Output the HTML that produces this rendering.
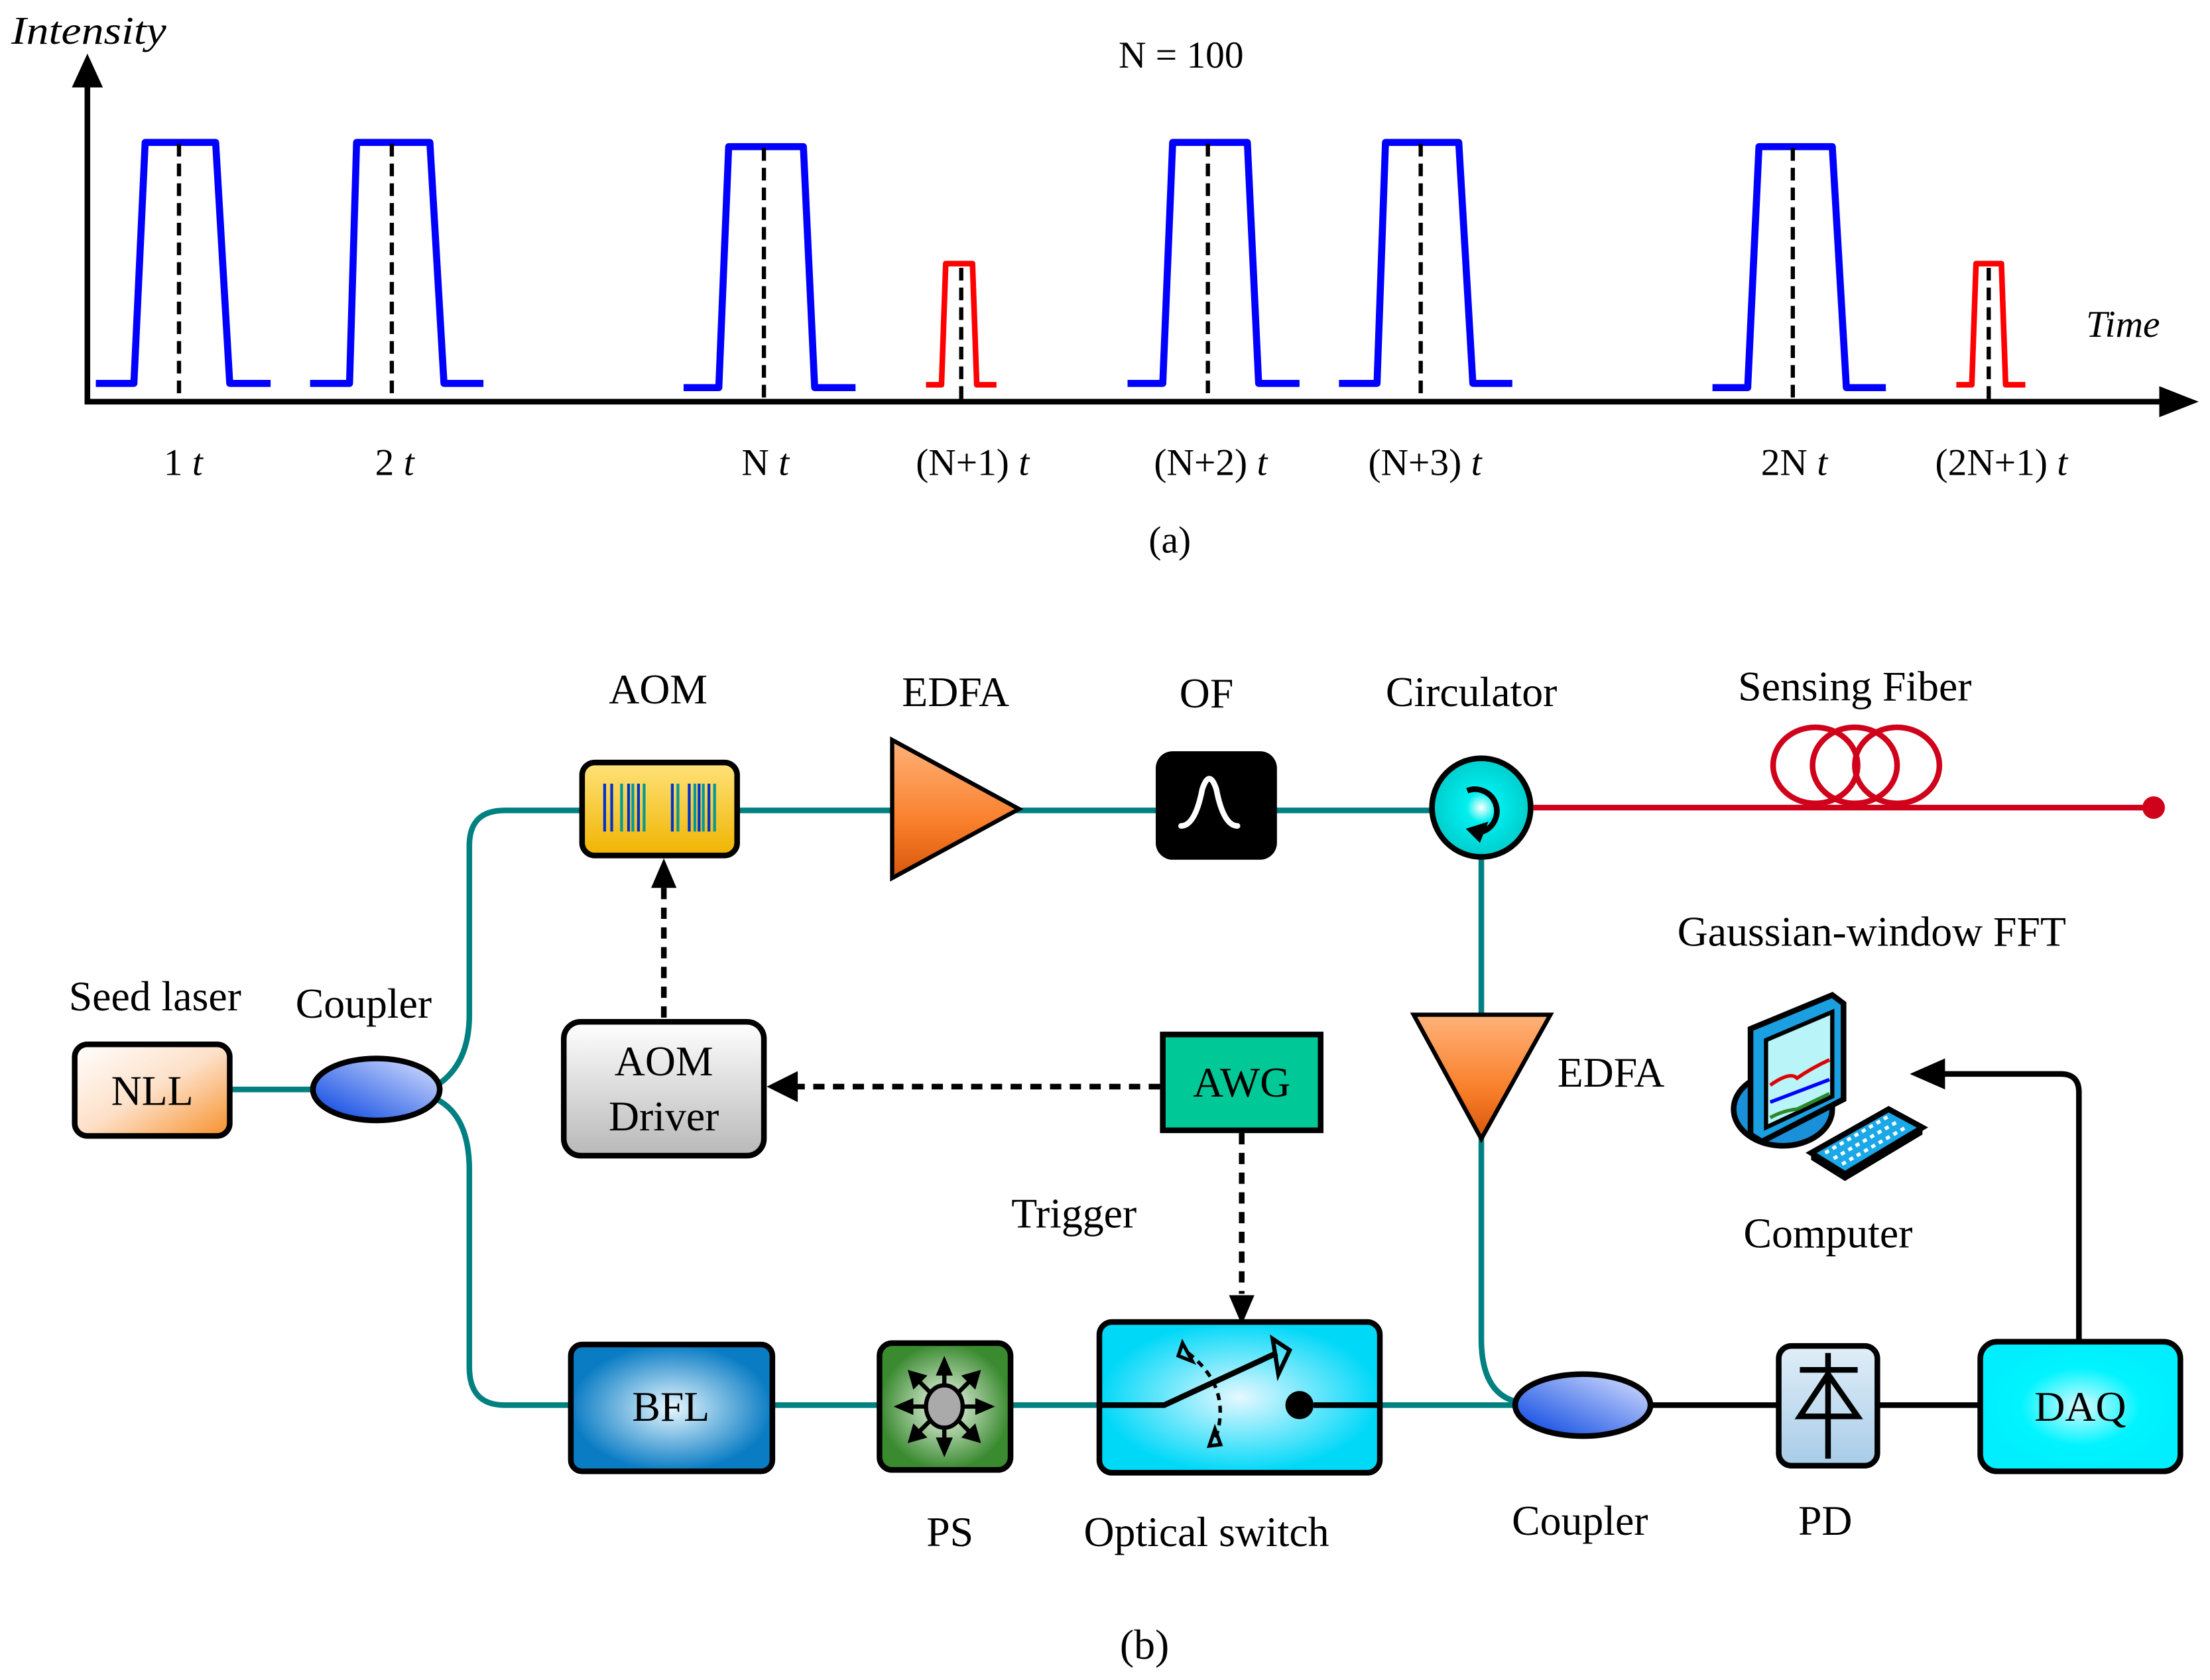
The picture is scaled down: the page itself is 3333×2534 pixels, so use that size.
<!DOCTYPE html>
<html><head><meta charset="utf-8"><style>
html,body{margin:0;padding:0;background:#fff;}
svg{display:block;}
text{font-family:"Liberation Serif",serif;fill:#000;}
</style></head><body>
<svg width="3333" height="2534" viewBox="0 0 1568 1192" xmlns="http://www.w3.org/2000/svg">
<defs>
<linearGradient id="gNLL" x1="0" y1="0" x2="1" y2="1"><stop offset="0" stop-color="#fff"/><stop offset="0.5" stop-color="#fde0c8"/><stop offset="1" stop-color="#f7902a"/></linearGradient>
<linearGradient id="gAOM" x1="0" y1="0" x2="0" y2="1"><stop offset="0" stop-color="#ffe27a"/><stop offset="1" stop-color="#f0b400"/></linearGradient>
<linearGradient id="gEDFA" x1="0" y1="0" x2="0" y2="1"><stop offset="0" stop-color="#ffb27a"/><stop offset="0.6" stop-color="#f97f2a"/><stop offset="1" stop-color="#d8560c"/></linearGradient>
<linearGradient id="gEDFA2" x1="0" y1="0" x2="0" y2="1"><stop offset="0" stop-color="#ffb27a"/><stop offset="0.6" stop-color="#f97f2a"/><stop offset="1" stop-color="#d8560c"/></linearGradient>
<linearGradient id="gDrv" x1="0" y1="0" x2="0" y2="1"><stop offset="0" stop-color="#fff"/><stop offset="1" stop-color="#b8b8b8"/></linearGradient>
<radialGradient id="gBFL"><stop offset="0" stop-color="#e8f8ff"/><stop offset="1" stop-color="#0a7cc4"/></radialGradient>
<radialGradient id="gPS"><stop offset="0" stop-color="#f4fbf0"/><stop offset="1" stop-color="#3a8a30"/></radialGradient>
<radialGradient id="gSW"><stop offset="0" stop-color="#e6f8ff"/><stop offset="1" stop-color="#00d8f8"/></radialGradient>
<radialGradient id="gDAQ"><stop offset="0" stop-color="#d8fbff"/><stop offset="0.6" stop-color="#00f4ff"/><stop offset="1" stop-color="#00eeff"/></radialGradient>
<radialGradient id="gCirc"><stop offset="0" stop-color="#fff"/><stop offset="0.3" stop-color="#00f0f0"/><stop offset="1" stop-color="#00cccc"/></radialGradient>
<linearGradient id="gCpl" x1="0" y1="1" x2="1" y2="0"><stop offset="0" stop-color="#0040e0"/><stop offset="1" stop-color="#dde4ff"/></linearGradient>
<linearGradient id="gPD" x1="0" y1="0" x2="0" y2="1"><stop offset="0" stop-color="#e0eef8"/><stop offset="1" stop-color="#a8cce8"/></linearGradient>
</defs>

<!-- (a) -->
<text x="8" y="31" font-size="28" font-style="italic" textLength="110" lengthAdjust="spacingAndGlyphs">Intensity</text>
<text x="838" y="48" font-size="27" text-anchor="middle">N = 100</text>
<text x="1480" y="239" font-size="27" font-style="italic">Time</text>
<line x1="62" y1="60" x2="62" y2="286" stroke="#000" stroke-width="4"/>
<polygon points="62,38 51,62 73,62" fill="#000"/>
<line x1="60" y1="285" x2="1535" y2="285" stroke="#000" stroke-width="4"/>
<polygon points="1560,285 1532,274 1532,296" fill="#000"/>
<g fill="none" stroke="#0000ff" stroke-width="5" stroke-linejoin="round">
<polyline points="68,272 95,272 103,101 153,101 163,272 192,272"/>
<polyline points="220,272 248,272 253,101 305,101 315,272 343,272"/>
<polyline points="485,275 510,275 517,104 570,104 578,275 607,275"/>
<polyline points="800,272 825,272 832,101 885,101 893,272 922,272"/>
<polyline points="950,272 977,272 983,101 1035,101 1045,272 1073,272"/>
<polyline points="1215,275 1240,275 1248,104 1300,104 1310,275 1338,275"/>
</g>
<g fill="none" stroke="#ff0000" stroke-width="4" stroke-linejoin="round">
<polyline points="657,273 668,273 671,187 690,187 693,273 707,273"/>
<polyline points="1388,273 1399,273 1402,187 1420,187 1423,273 1437,273"/>
</g>
<g stroke="#000" stroke-width="3" stroke-dasharray="9,5">
<line x1="127" y1="102" x2="127" y2="284"/><line x1="278" y1="102" x2="278" y2="284"/>
<line x1="542" y1="105" x2="542" y2="284"/><line x1="682" y1="190" x2="682" y2="284"/>
<line x1="857" y1="102" x2="857" y2="284"/><line x1="1008" y1="102" x2="1008" y2="284"/>
<line x1="1272" y1="105" x2="1272" y2="284"/><line x1="1411" y1="190" x2="1411" y2="284"/>
</g>
<g font-size="27" text-anchor="middle">
<text x="130" y="337">1 <tspan font-style="italic">t</tspan></text>
<text x="280" y="337">2 <tspan font-style="italic">t</tspan></text>
<text x="543" y="337">N <tspan font-style="italic">t</tspan></text>
<text x="690" y="337">(N+1) <tspan font-style="italic">t</tspan></text>
<text x="859" y="337">(N+2) <tspan font-style="italic">t</tspan></text>
<text x="1011" y="337">(N+3) <tspan font-style="italic">t</tspan></text>
<text x="1273" y="337">2N <tspan font-style="italic">t</tspan></text>
<text x="1420" y="337">(2N+1) <tspan font-style="italic">t</tspan></text>
<text x="830" y="392">(a)</text>
</g>

<!-- (b) fibers -->
<g fill="none" stroke="#008080" stroke-width="4">
<line x1="163" y1="773" x2="225" y2="773"/>
<path d="M310,770 Q333,755 333,720 L333,600 Q333,575 358,575 L1017,575"/>
<path d="M310,780 Q333,792 333,830 L333,970 Q333,997 358,997 L1078,997"/>
<line x1="1051" y1="608" x2="1051" y2="720"/>
<path d="M1051,806 L1051,950 Q1051,990 1078,995"/>
</g>
<line x1="1088" y1="573" x2="1528" y2="573" stroke="#d0021b" stroke-width="4"/>
<circle cx="1528" cy="573" r="8" fill="#d0021b"/>
<g fill="none" stroke="#d0021b" stroke-width="4">
<ellipse cx="1288" cy="543" rx="30" ry="27"/><ellipse cx="1316" cy="543" rx="30" ry="27"/><ellipse cx="1346" cy="543" rx="30" ry="27"/>
</g>
<g stroke="#000" stroke-width="4" fill="none">
<line x1="1170" y1="997" x2="1262" y2="997"/>
<line x1="1332" y1="997" x2="1405" y2="997"/>
<path d="M1475,952 L1475,775 Q1475,762 1462,762 L1375,762"/>
</g>
<polygon points="1355,762 1380,751 1380,773" fill="#000"/>

<!-- dashed control -->
<g stroke="#000" stroke-width="4" stroke-dasharray="8,6" fill="none">
<line x1="471" y1="722" x2="471" y2="628"/>
<line x1="823" y1="771" x2="565" y2="771"/>
<line x1="881" y1="804" x2="881" y2="918"/>
</g>
<polygon points="471,609 462,630 480,630" fill="#000"/>
<polygon points="544,771 566,760 566,782" fill="#000"/>
<polygon points="881,940 872,919 890,919" fill="#000"/>

<!-- components -->
<rect x="53" y="741" width="110" height="65" rx="9" fill="url(#gNLL)" stroke="#000" stroke-width="4"/>
<text x="108" y="784" font-size="30" text-anchor="middle">NLL</text>
<ellipse cx="267" cy="773" rx="45" ry="22" fill="url(#gCpl)" stroke="#000" stroke-width="4"/>

<rect x="413" y="541" width="110" height="66" rx="9" fill="url(#gAOM)" stroke="#000" stroke-width="4"/>
<g stroke-width="2">
<g stroke="#0033cc"><line x1="429" y1="556" x2="429" y2="590"/><line x1="434" y1="556" x2="434" y2="590"/><line x1="446" y1="556" x2="446" y2="590"/><line x1="453" y1="556" x2="453" y2="590"/><line x1="477" y1="556" x2="477" y2="590"/><line x1="489" y1="556" x2="489" y2="590"/><line x1="496" y1="556" x2="496" y2="590"/><line x1="503" y1="556" x2="503" y2="590"/></g>
<g stroke="#009a9a"><line x1="441" y1="556" x2="441" y2="590"/><line x1="449" y1="556" x2="449" y2="590"/><line x1="457" y1="556" x2="457" y2="590"/><line x1="481" y1="556" x2="481" y2="590"/><line x1="493" y1="556" x2="493" y2="590"/><line x1="499" y1="556" x2="499" y2="590"/><line x1="507" y1="556" x2="507" y2="590"/></g>
</g>
<polygon points="633,525 633,623 723,574" fill="url(#gEDFA)" stroke="#000" stroke-width="3"/>
<rect x="820" y="533" width="86" height="77" rx="12" fill="#000"/>
<path d="M838,586 Q848,586 853,560 Q858,545 863,560 Q868,586 878,586" stroke="#fff" stroke-width="4" fill="none" stroke-linecap="round"/>
<circle cx="1051" cy="573" r="35" fill="url(#gCirc)" stroke="#000" stroke-width="4"/>
<path d="M1041,561 A13,13 0 1,1 1052,590" fill="none" stroke="#000" stroke-width="4"/>
<polygon points="1040,588 1056,583 1050,598" fill="#000"/>
<polygon points="1003,720 1100,720 1051,808" fill="url(#gEDFA2)" stroke="#000" stroke-width="3"/>

<rect x="400" y="725" width="142" height="95" rx="12" fill="url(#gDrv)" stroke="#000" stroke-width="4"/>
<text x="471" y="763" font-size="30" text-anchor="middle">AOM</text>
<text x="471" y="802" font-size="30" text-anchor="middle">Driver</text>
<rect x="825" y="734" width="112" height="68" fill="#00c896" stroke="#000" stroke-width="4"/>
<text x="881" y="778" font-size="30" text-anchor="middle">AWG</text>

<rect x="405" y="954" width="143" height="90" rx="8" fill="url(#gBFL)" stroke="#000" stroke-width="4"/>
<text x="476" y="1008" font-size="30" text-anchor="middle">BFL</text>
<rect x="624" y="953" width="93" height="90" rx="9" fill="url(#gPS)" stroke="#000" stroke-width="4"/>
<g stroke="#000" stroke-width="3">
<line x1="670" y1="998" x2="670" y2="970"/><line x1="670" y1="998" x2="670" y2="1026"/>
<line x1="670" y1="998" x2="642" y2="998"/><line x1="670" y1="998" x2="698" y2="998"/>
<line x1="670" y1="998" x2="650" y2="978"/><line x1="670" y1="998" x2="690" y2="978"/>
<line x1="670" y1="998" x2="650" y2="1018"/><line x1="670" y1="998" x2="690" y2="1018"/>
</g>
<g fill="#000">
<polygon points="670,962 664,976 676,976"/><polygon points="670,1034 664,1020 676,1020"/>
<polygon points="634,998 648,992 648,1004"/><polygon points="706,998 692,992 692,1004"/>
<polygon points="644,972 648,986 658,976"/><polygon points="696,972 692,986 682,976"/>
<polygon points="644,1024 648,1010 658,1020"/><polygon points="696,1024 692,1010 682,1020"/>
</g>
<ellipse cx="670" cy="998" rx="13" ry="15" fill="#aaa" stroke="#000" stroke-width="3"/>

<rect x="780" y="938" width="199" height="107" rx="9" fill="url(#gSW)" stroke="#000" stroke-width="4"/>
<polyline points="780,997 826,997 906,960" fill="none" stroke="#000" stroke-width="4"/>
<polygon points="903,950 915,958 907,975" fill="none" stroke="#000" stroke-width="3"/>
<path d="M843,960 Q875,985 862,1022" fill="none" stroke="#000" stroke-width="2.5" stroke-dasharray="5,4"/>
<polygon points="839,953 846,966 836,962" fill="none" stroke="#000" stroke-width="2.5"/>
<polygon points="858,1026 862,1014 866,1025" fill="none" stroke="#000" stroke-width="2.5"/>
<circle cx="922" cy="997" r="10" fill="#000"/>
<line x1="932" y1="997" x2="979" y2="997" stroke="#000" stroke-width="4"/>

<ellipse cx="1123" cy="997" rx="48" ry="22" fill="url(#gCpl)" stroke="#000" stroke-width="4"/>
<rect x="1262" y="955" width="70" height="85" rx="9" fill="url(#gPD)" stroke="#000" stroke-width="4"/>
<g stroke="#000" stroke-width="4" fill="none">
<line x1="1297" y1="960" x2="1297" y2="1035"/><line x1="1277" y1="972" x2="1318" y2="972"/>
<polygon points="1297,975 1277,1005 1318,1005"/>
</g>
<rect x="1405" y="952" width="142" height="92" rx="12" fill="url(#gDAQ)" stroke="#000" stroke-width="4"/>
<text x="1476" y="1008" font-size="30" text-anchor="middle">DAQ</text>

<!-- computer -->
<ellipse cx="1265" cy="787" rx="35" ry="26" fill="#1a90d8" stroke="#000" stroke-width="4"/>
<polygon points="1242,730 1300,706 1308,712 1308,780 1250,810 1242,805" fill="#1aa0e0" stroke="#000" stroke-width="4"/>
<polygon points="1253,738 1300,718 1300,778 1253,800" fill="#b8f4f8" stroke="#000" stroke-width="3"/>
<path d="M1256,770 Q1270,760 1275,765 Q1285,758 1298,752" stroke="#d00" stroke-width="2.5" fill="none"/>
<path d="M1256,782 L1298,766" stroke="#00f" stroke-width="2.5" fill="none"/>
<path d="M1256,793 Q1265,788 1275,787 L1298,776" stroke="#2a8a2a" stroke-width="2.5" fill="none"/>
<polygon points="1285,818 1340,787 1364,800 1309,833" fill="#1aa8e8" stroke="#000" stroke-width="4"/>
<g stroke="#fff" stroke-width="2.5" stroke-dasharray="3,3">
<line x1="1295" y1="818" x2="1340" y2="792"/>
<line x1="1301" y1="822" x2="1346" y2="796"/>
<line x1="1307" y1="826" x2="1352" y2="800"/>
</g>
<polygon points="1285,818 1309,833 1309,838 1285,823" fill="#000"/>
<polygon points="1309,833 1364,800 1364,805 1309,838" fill="#000"/>

<!-- labels -->
<g font-size="30" text-anchor="middle">
<text x="467" y="499">AOM</text>
<text x="678" y="501">EDFA</text>
<text x="856" y="502">OF</text>
<text x="1044" y="501">Circulator</text>
<text x="1316" y="497">Sensing Fiber</text>
<text x="1328" y="671">Gaussian-window FFT</text>
<text x="1143" y="771">EDFA</text>
<text x="1297" y="885">Computer</text>
<text x="110" y="717">Seed laser</text>
<text x="258" y="722">Coupler</text>
<text x="762" y="871">Trigger</text>
<text x="674" y="1097">PS</text>
<text x="856" y="1097">Optical switch</text>
<text x="1121" y="1089">Coupler</text>
<text x="1295" y="1089">PD</text>
<text x="812" y="1177">(b)</text>
</g>
</svg>
</body></html>
